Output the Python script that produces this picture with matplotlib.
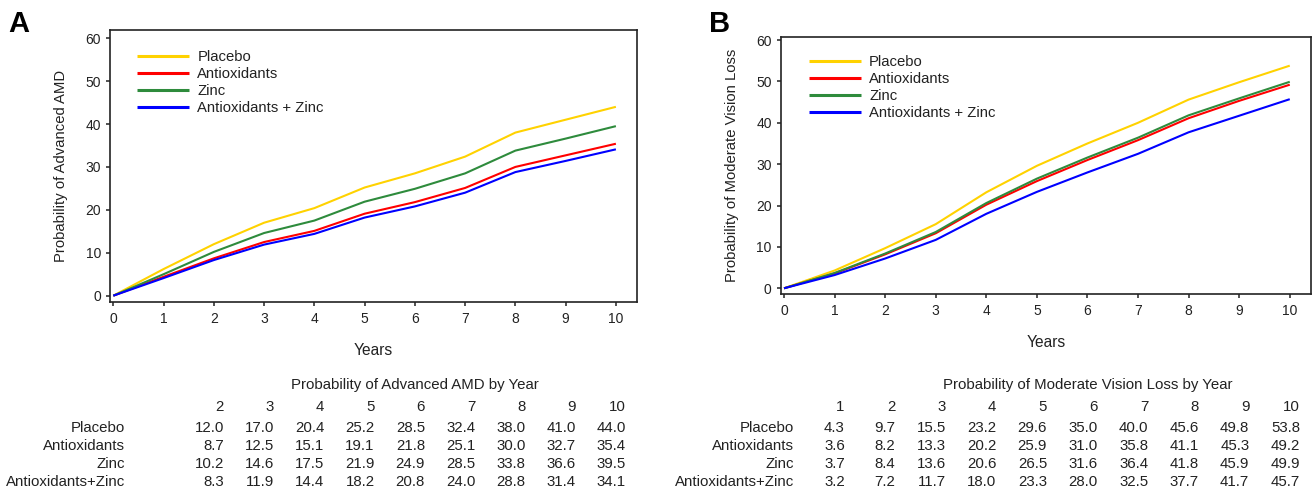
import matplotlib
matplotlib.use("Agg")
import matplotlib.pyplot as plt
import matplotlib.transforms as mtransforms

plt.rcParams['font.family'] = ['Liberation Sans', 'DejaVu Sans']

# ---------------- data ----------------
years = [0, 1, 2, 3, 4, 5, 6, 7, 8, 9, 10]
groups_legend = ["Placebo", "Antioxidants", "Zinc", "Antioxidants + Zinc"]
groups_table = ["Placebo", "Antioxidants", "Zinc", "Antioxidants+Zinc"]
colors = ["#FFD200", "#FF0000", "#2E8B3C", "#0000FF"]

# Panel A: probability of advanced AMD
amd_placebo = [0, 6.2, 12.0, 17.0, 20.4, 25.2, 28.5, 32.4, 38.0, 41.0, 44.0]
amd_antiox = [0, 4.4, 8.7, 12.5, 15.1, 19.1, 21.8, 25.1, 30.0, 32.7, 35.4]
amd_zinc = [0, 5.0, 10.2, 14.6, 17.5, 21.9, 24.9, 28.5, 33.8, 36.6, 39.5]
amd_az = [0, 4.1, 8.3, 11.9, 14.4, 18.2, 20.8, 24.0, 28.8, 31.4, 34.1]
amd_table_years = [2, 3, 4, 5, 6, 7, 8, 9, 10]

# Panel B: probability of moderate vision loss
mvl_placebo = [0, 4.3, 9.7, 15.5, 23.2, 29.6, 35.0, 40.0, 45.6, 49.8, 53.8]
mvl_antiox = [0, 3.6, 8.2, 13.3, 20.2, 25.9, 31.0, 35.8, 41.1, 45.3, 49.2]
mvl_zinc = [0, 3.7, 8.4, 13.6, 20.6, 26.5, 31.6, 36.4, 41.8, 45.9, 49.9]
mvl_az = [0, 3.2, 7.2, 11.7, 18.0, 23.3, 28.0, 32.5, 37.7, 41.7, 45.7]
mvl_table_years = [1, 2, 3, 4, 5, 6, 7, 8, 9, 10]

yticks = [0, 10, 20, 30, 40, 50, 60]
xticks = years

W, H = 1313, 495
fig = plt.figure(figsize=(W / 100, H / 100), dpi=100)
TXT = '#222222'
TFS = 10.8


def px_y(y):
    return 1 - y / H


def make_panel(rect, series, ylim, ylabel, letter, letter_xy, leg_anchor,
               table_title, table_years, row_label_x):
    ax = fig.add_axes(rect)
    for s, c, lab in zip(series, colors, groups_legend):
        ax.plot(years, s, color=c, lw=1.5, label=lab, solid_capstyle='butt')
    ax.set_xlim(-0.066, 10.42)
    ax.set_ylim(*ylim)
    ax.set_xticks(xticks)
    ax.set_yticks(yticks)
    ax.tick_params(axis='both', direction='out', length=3.2, width=1.1,
                   color=TXT, labelsize=10, labelcolor=TXT)
    ax.tick_params(axis='x', pad=4.2)
    ax.tick_params(axis='y', pad=3.3)
    for sp in ax.spines.values():
        sp.set_linewidth(1.2)
        sp.set_color(TXT)
    ax.set_xlabel("Years", fontsize=11.2, labelpad=12, color=TXT)
    ax.set_ylabel(ylabel, fontsize=10.7, labelpad=12.5, color=TXT)
    leg = ax.legend(loc='upper left', bbox_to_anchor=leg_anchor, frameon=False,
                    fontsize=10.7, handlelength=3.5, handletextpad=0.58,
                    labelspacing=0.2, borderpad=0, borderaxespad=0)
    for ln in leg.get_lines():
        ln.set_linewidth(2.2)
    for t in leg.get_texts():
        t.set_color(TXT)
    fig.text(letter_xy[0] / W, px_y(letter_xy[1]), letter, fontsize=21,
             fontweight='bold', ha='left', va='baseline')

    # table below
    trans = mtransforms.blended_transform_factory(ax.transData, fig.transFigure)
    ax.text(6, px_y(385.5), table_title, transform=trans, ha='center',
            va='center', fontsize=TFS, color=TXT)
    for yr in table_years:
        ax.text(yr + 0.2, px_y(407), str(yr), transform=trans, ha='right',
                va='center', fontsize=TFS, color=TXT)
    row_y = [427.5, 445.7, 463.8, 482]
    for name, s, ry in zip(groups_table, series, row_y):
        ax.text(row_label_x, px_y(ry), name, transform=trans, ha='right',
                va='center', fontsize=TFS, color=TXT)
        for yr in table_years:
            ax.text(yr + 0.2, px_y(ry), f"{s[years.index(yr)]:.1f}",
                    transform=trans, ha='right', va='center', fontsize=TFS,
                    color=TXT)
    return ax


make_panel([110 / W, px_y(302), 527 / W, 272 / H],
           [amd_placebo, amd_antiox, amd_zinc, amd_az],
           (-1.47, 61.9), "Probability of Advanced AMD", "A", (8, 32),
           (0.0507, 0.9266), "Probability of Advanced AMD by Year",
           amd_table_years, 0.24)

make_panel([780.7 / W, px_y(294), 530.3 / W, 257.3 / H],
           [mvl_placebo, mvl_antiox, mvl_zinc, mvl_az],
           (-1.38, 60.8), "Probability of Moderate Vision Loss", "B", (709, 32),
           (0.0526, 0.9285), "Probability of Moderate Vision Loss by Year",
           mvl_table_years, 0.2)

fig.savefig("out.png", dpi=100, facecolor='white')
